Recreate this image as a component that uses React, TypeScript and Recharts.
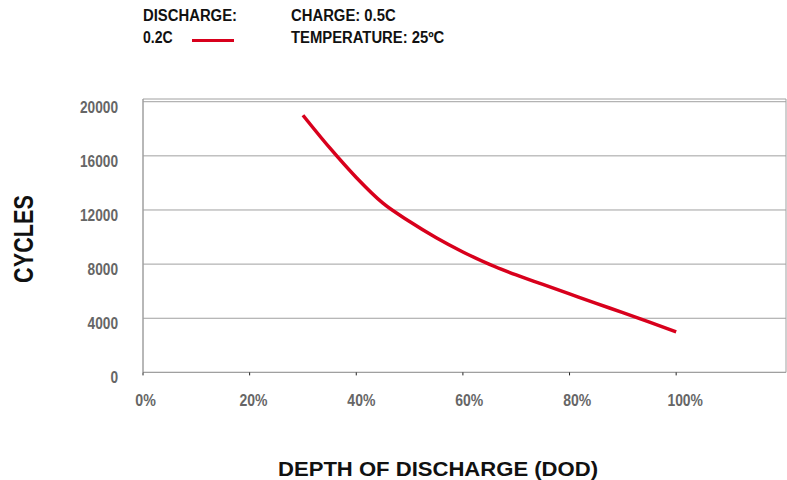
import React from 'react';
import { LineChart, Line, XAxis, YAxis, CartesianGrid, ReferenceArea } from 'recharts';

// depth of discharge (%) and cycle life at 0.2C
const dod = [30, 35, 40, 45, 50, 55, 60, 65, 70, 75, 80, 85, 90, 95, 100];
const cycles = [19000, 16600, 14400, 12500, 11150, 9950, 8900, 7980, 7200, 6500, 5800, 5100, 4420, 3720, 3000];
const xTicks = [0, 20, 40, 60, 80, 100];
const yTicks = [0, 4000, 8000, 12000, 16000, 20000];

const data = dod.map((d, i) => ({ dod: d, cycles: cycles[i] }));

// no narrow font installed, so squeeze the text with textLength
const FONT = "'Liberation Sans', Arial, sans-serif";
const GRID = '#a0a0a0';
const RED = '#d8001c';

const XTick = (props: any) => {
    const { x, y, payload, index } = props;
    const label = `${payload.value}%`;
    return (
        <text x={x + 2.5 + index * 1.3} y={y} dy={31} textAnchor="middle"
              fontFamily={FONT} fontWeight="bold" fontSize={16} fill="#666"
              textLength={(label.length - 1) * 7.5 + 13} lengthAdjust="spacingAndGlyphs">
            {label}
        </text>
    );
};

const YTick = (props: any) => {
    const { x, y, payload } = props;
    const label = String(payload.value);
    return (
        <text x={x} y={y} dy={10.8} textAnchor="end"
              fontFamily={FONT} fontWeight="bold" fontSize={16} fill="#666"
              textLength={label.length * 7.6} lengthAdjust="spacingAndGlyphs">
            {label}
        </text>
    );
};

const Squeezed = ({ w, ...rest }: any) => (
    <text textLength={w} lengthAdjust="spacingAndGlyphs" {...rest} />
);

const App: React.FC = () => (
    <div style={{ position: 'absolute', left: 0, top: 0, width: 787, height: 480, background: '#fff' }}>
        <LineChart width={787} height={480} data={data}
                   margin={{ top: 99, right: 1, left: 83, bottom: 77.6 }}>
            <CartesianGrid vertical={false} stroke={GRID} horizontalValues={yTicks} />
            <ReferenceArea x1={0} x2={120.6} y1={0} y2={20200} fill="none" stroke={GRID} strokeWidth={1} />
            <XAxis dataKey="dod" type="number" domain={[0, 120.6]} ticks={xTicks} interval={0}
                   height={30} stroke={GRID} tickSize={3} tickMargin={0}
                   tickLine={{ stroke: '#222' }} tick={<XTick />} />
            <YAxis type="number" domain={[0, 20200]} ticks={yTicks} interval={0}
                   width={60} stroke={GRID} tickSize={0} tickMargin={25}
                   tickLine={false} tick={<YTick />} />
            <Line type="monotone" dataKey="cycles" stroke={RED} strokeWidth={3.5}
                  dot={false} isAnimationActive={false} />
        </LineChart>

        {/* header and axis titles */}
        <svg width={787} height={480} style={{ position: 'absolute', left: 0, top: 0, pointerEvents: 'none' }}
             fontFamily={FONT} fontWeight="bold" fill="#111">
            <Squeezed x={143} y={20.7} fontSize={16} w={94}>DISCHARGE:</Squeezed>
            <Squeezed x={143} y={43.3} fontSize={16} w={29.7}>0.2C</Squeezed>
            <line x1={192} x2={234} y1={40.5} y2={40.5} stroke={RED} strokeWidth={3} />
            <Squeezed x={291} y={20.7} fontSize={16} w={104.7}>CHARGE: 0.5C</Squeezed>
            <Squeezed x={291} y={43.3} fontSize={16} w={153.3}>TEMPERATURE: 25ºC</Squeezed>
            <Squeezed x={278} y={475.5} fontSize={20} w={320}>DEPTH OF DISCHARGE (DOD)</Squeezed>
            <Squeezed transform="translate(33,283) rotate(-90)" x={0} y={0} fontSize={28} w={88}>CYCLES</Squeezed>
        </svg>
    </div>
);

export default App;
